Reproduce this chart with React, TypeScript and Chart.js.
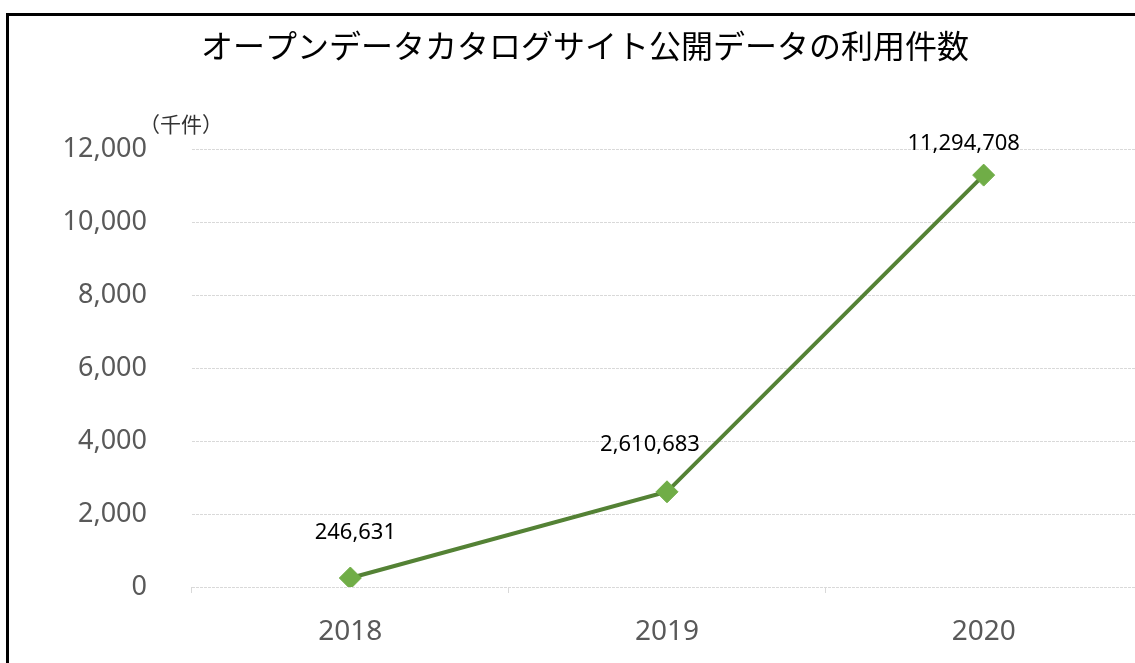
import React, { useEffect, useRef } from "react";
import { Chart, registerables } from "chart.js";

Chart.register(...registerables);

const categories = ["2018", "2019", "2020"];
const usageCounts = [246631, 2610683, 11294708];
const yTickMax = 12000;
const yTickStep = 2000;
const titleText = "オープンデータカタログサイト公開データの利用件数";
const unitText = "（千件）";
const labelOffsets = [
  [5, -45],
  [-17, -47],
  [-20, -31],
];

const JP_FONT = '"Noto Sans CJK JP", "Noto Sans", sans-serif';
const NUM_FONT = '"Noto Sans", "Open Sans", sans-serif';

export default function App() {
  const canvasRef = useRef<HTMLCanvasElement | null>(null);

  useEffect(() => {
    const canvas = canvasRef.current;
    if (!canvas) return;
    const values = usageCounts.map((v) => v / 1000);

    const dataLabelPlugin = {
      id: "dataLabels",
      afterDatasetsDraw(chart: any) {
        const ctx = chart.ctx;
        const meta = chart.getDatasetMeta(0);
        ctx.save();
        ctx.font = `22px ${NUM_FONT}`;
        ctx.fillStyle = "#000000";
        ctx.textAlign = "center";
        ctx.textBaseline = "middle";
        meta.data.forEach((pt: any, i: number) => {
          const off = labelOffsets[i] || [0, -40];
          ctx.fillText(
            usageCounts[i].toLocaleString("en-US"),
            pt.x + off[0],
            pt.y + off[1]
          );
        });
        const y = chart.scales.y;
        ctx.font = `21px ${JP_FONT}`;
        ctx.fillStyle = "#333333";
        ctx.textAlign = "left";
        ctx.fillText(unitText, 139, y.getPixelForValue(yTickMax) - 25);
        ctx.restore();
      },
    };

    const chart = new Chart(canvas, {
      type: "line",
      data: {
        labels: categories,
        datasets: [
          {
            data: values,
            borderColor: "#548235",
            borderWidth: 4,
            pointStyle: "rectRot",
            pointRadius: 11,
            pointBorderWidth: 1,
            pointBackgroundColor: "#70AD47",
            pointBorderColor: "#70AD47",
            tension: 0,
            fill: false,
          },
        ],
      },
      options: {
        responsive: false,
        animation: false,
        layout: { padding: { left: 28, right: 28, top: 0, bottom: 0 } },
        plugins: {
          legend: { display: false },
          tooltip: { enabled: false },
          title: {
            display: true,
            text: titleText,
            color: "#000000",
            font: { family: JP_FONT, size: 32, weight: "normal", lineHeight: 1.2 },
            padding: { top: 27, bottom: 84 },
          },
        },
        scales: {
          x: {
            offset: true,
            grid: {
              offset: true,
              drawOnChartArea: false,
              drawTicks: true,
              tickLength: 6,
              color: "#d9d9d9",
            },
            border: { display: false },
            ticks: {
              color: "#595959",
              font: { family: NUM_FONT, size: 28 },
              padding: 22,
            },
            afterFit(scale: any) {
              scale.height = 76;
            },
          },
          y: {
            min: 0,
            max: yTickMax,
            grid: { color: "#d9d9d9", drawTicks: false, lineWidth: 1 },
            border: { display: false, dash: [3, 1] },
            ticks: {
              stepSize: yTickStep,
              color: "#595959",
              font: { family: NUM_FONT, size: 27 },
              padding: 45,
              callback: (v: any) => Number(v).toLocaleString("en-US"),
            },
            afterFit(scale: any) {
              scale.width = 164;
            },
          },
        },
      },
      plugins: [dataLabelPlugin],
    });
    return () => chart.destroy();
  }, []);

  return (
    <div
      style={{
        position: "fixed",
        left: 0,
        top: 0,
        width: 1135,
        height: 663,
        overflow: "hidden",
        background: "#ffffff",
      }}
    >
      <div
        style={{
          position: "absolute",
          left: 6,
          top: 13,
          width: 1400,
          height: 900,
          borderTop: "3px solid #000000",
          borderLeft: "3px solid #000000",
          boxSizing: "border-box",
        }}
      />
      <canvas
        ref={canvasRef}
        width={1170}
        height={663}
        style={{ position: "absolute", left: 0, top: 0, width: 1170, height: 663 }}
      />
    </div>
  );
}
